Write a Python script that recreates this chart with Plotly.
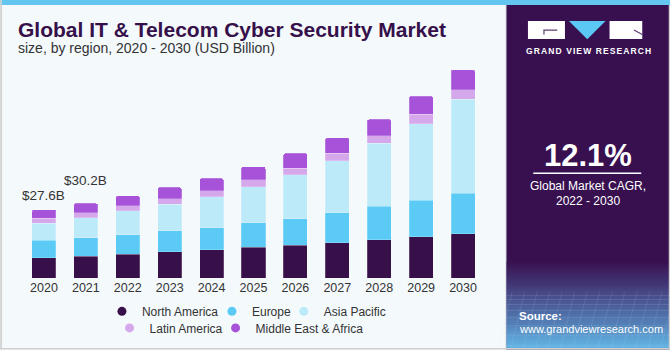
import plotly.graph_objects as go

# ---------------- data ----------------
years = ['2020', '2021', '2022', '2023', '2024', '2025', '2026', '2027', '2028', '2029', '2030']
north_america = [8.2, 8.9, 9.7, 10.6, 11.4, 12.4, 13.3, 14.3, 15.5, 16.7, 18.0]
europe = [7.0, 7.4, 7.9, 8.5, 9.0, 10.0, 10.6, 12.1, 13.5, 14.7, 16.2]
asia_pacific = [6.9, 8.1, 9.6, 10.8, 12.5, 14.5, 17.8, 21.0, 25.5, 31.0, 38.1]
latin_america = [2.0, 2.0, 2.1, 2.1, 2.4, 2.8, 2.8, 3.1, 3.1, 3.8, 3.9]
middle_east_africa = [3.5, 3.8, 3.9, 4.7, 5.0, 5.4, 5.9, 6.2, 6.6, 7.4, 8.0]

label_years = ['2020', '2021']
label_texts = ['$27.6B', '$30.2B']

series_names = ['North America', 'Europe', 'Asia Pacific', 'Latin America', 'Middle East & Africa']
series_values = [north_america, europe, asia_pacific, latin_america, middle_east_africa]
series_colors = ['#371049', '#5BCAF5', '#BDEAF9', '#D5A8EC', '#A652D9']

# ---------------- layout geometry (pixels) ----------------
W, H = 670, 350
ML, MT = 22.75, 60
PW, PH = 461.0, 218.3
MR = W - ML - PW
MB = H - MT - PH
Y_TOP = 88.2
FONT = 'Liberation Sans, Arial, sans-serif'


def X(px):
    return (px - ML) / PW


def Y(py):
    return (MT + PH - py) / PH


fig = go.Figure()

for name, vals, col in zip(series_names, series_values, series_colors):
    fig.add_trace(go.Bar(
        x=years, y=vals, name=name, marker_color=col,
        marker_line=dict(width=0.6, color='rgba(255,255,255,0.35)'),
        showlegend=False, hoverinfo='x+y+name'))

# legend entries with circle markers, one legend per entry for exact placement
legend_pos = [  # (text start px, row center px)
    (140.7, 311.7), (250.7, 311.7), (322.5, 311.7),
    (148.3, 328.3), (254.3, 328.3)]
legend_keys = ['legend', 'legend2', 'legend3', 'legend4', 'legend5']
legend_layout = {}
for i, (name, col) in enumerate(zip(series_names, series_colors)):
    fig.add_trace(go.Scatter(
        x=[None], y=[None], mode='markers', name=name,
        marker=dict(color=col, size=9, symbol='circle'),
        legend=legend_keys[i], showlegend=True))
    tx, ty = legend_pos[i]
    legend_layout[legend_keys[i]] = dict(
        x=X(tx + 1 - 40), y=Y(ty), xanchor='left', yanchor='middle',
        orientation='h', bgcolor='rgba(0,0,0,0)',
        font=dict(family=FONT, size=12, color='#333333'))

# value labels above first bars
totals = [sum(v[i] for v in series_values) for i in range(len(years))]
label_shift = [14, 23.3]
annotations = []
for yr, txt, sh in zip(label_years, label_texts, label_shift):
    idx = years.index(yr)
    annotations.append(dict(
        x=idx, y=totals[idx], xref='x', yref='y', text=txt.replace('$', '&#36;'), showarrow=False,
        yanchor='middle', yshift=sh,
        font=dict(family=FONT, size=13.5, color='#333333')))

# titles
annotations.append(dict(
    x=X(15.5), y=Y(29.3), xref='paper', yref='paper', xanchor='left', yanchor='middle',
    text='<b>Global IT & Telecom Cyber Security Market</b>', showarrow=False,
    font=dict(family=FONT, size=21, color='#36104A')))
annotations.append(dict(
    x=X(15.5), y=Y(48), xref='paper', yref='paper', xanchor='left', yanchor='middle',
    text='size, by region, 2020 - 2030 (USD Billion)', showarrow=False,
    font=dict(family=FONT, size=14, color='#333333')))

# right panel texts
annotations += [
    dict(x=X(588.5), y=Y(51), xref='paper', yref='paper', xanchor='center', yanchor='middle',
         text='<b><span style="letter-spacing:1.1px">GRAND VIEW RESEARCH</span></b>', showarrow=False,
         font=dict(family=FONT, size=8.5, color='#FFFFFF')),
    dict(x=X(587.5), y=Y(156), xref='paper', yref='paper', xanchor='center', yanchor='middle',
         text='<b>12.1%</b>', showarrow=False,
         font=dict(family=FONT, size=31, color='#FFFFFF')),
    dict(x=X(587.5), y=Y(186), xref='paper', yref='paper', xanchor='center', yanchor='middle',
         text='Global Market CAGR,', showarrow=False,
         font=dict(family=FONT, size=12, color='#FFFFFF')),
    dict(x=X(587.5), y=Y(201.5), xref='paper', yref='paper', xanchor='center', yanchor='middle',
         text='2022 - 2030', showarrow=False,
         font=dict(family=FONT, size=12, color='#FFFFFF')),
    dict(x=X(516.5), y=Y(316), xref='paper', yref='paper', xanchor='left', yanchor='middle',
         text='<b>Source:</b>', showarrow=False,
         font=dict(family=FONT, size=11.5, color='#FFFFFF')),
    dict(x=X(516.5), y=Y(329.5), xref='paper', yref='paper', xanchor='left', yanchor='middle',
         text='www.grandviewresearch.com', showarrow=False,
         font=dict(family=FONT, size=11, color='#FFFFFF')),
]


def rect(x0, y0, x1, y1, color, layer='below'):
    return dict(type='rect', xref='paper', yref='paper', x0=X(x0), x1=X(x1), y0=Y(y1), y1=Y(y0),
                fillcolor=color, line=dict(width=0), layer=layer)


def hexrgb(h):
    h = h.lstrip('#')
    return tuple(int(h[i:i + 2], 16) for i in (0, 2, 4))


shapes = []
# right panel base
shapes.append(rect(506, 0, 670, 350, '#381050'))
# bottom gradient of the panel
stops = [(262, '#381050'), (290, '#46407f'), (315, '#4f6fa8'), (348, '#62b4e3')]
n = 44
for k in range(n):
    y0 = stops[0][0] + (stops[-1][0] - stops[0][0]) * k / n
    y1 = stops[0][0] + (stops[-1][0] - stops[0][0]) * (k + 1) / n + 0.6
    ym = (y0 + y1) / 2
    for j in range(len(stops) - 1):
        if stops[j][0] <= ym <= stops[j + 1][0]:
            t = (ym - stops[j][0]) / (stops[j + 1][0] - stops[j][0])
            a, b = hexrgb(stops[j][1]), hexrgb(stops[j + 1][1])
            c = tuple(round(a[i] + (b[i] - a[i]) * t) for i in range(3))
            break
    shapes.append(rect(506, y0, 670, y1, 'rgb(%d,%d,%d)' % c))
# faint grid texture in the panel bottom
for k in range(9):
    yy = 296 + k * (k + 6) * 0.55
    shapes.append(dict(type='line', xref='paper', yref='paper', x0=X(506), x1=X(670), y0=Y(yy), y1=Y(yy),
                       line=dict(color='rgba(200,220,255,0.18)', width=0.8), layer='below'))
for k in range(14):
    xx = 506 + k * 12.5
    shapes.append(dict(type='line', xref='paper', yref='paper', x0=X(xx + 6), x1=X(xx - 8), y0=Y(292), y1=Y(348),
                       line=dict(color='rgba(200,220,255,0.15)', width=0.8), layer='below'))
# top stripe and frame
shapes.append(rect(0, 0, 670, 5, '#62C6F0'))
shapes.append(rect(0, 0, 1.7, 350, '#CFCFCF'))
shapes.append(rect(0, 348.3, 670, 350, '#CFCFCF'))
shapes.append(rect(668.5, 5, 670, 350, '#CFCFCF'))
shapes.append(rect(504.8, 5, 506, 348.3, '#E4E8EC'))
# logo
shapes.append(rect(527.7, 21, 564.7, 39, '#FFFFFF'))
shapes.append(rect(609.3, 21, 642, 39, '#FFFFFF'))
shapes.append(dict(type='path', xref='paper', yref='paper',
                   path='M %f %f L %f %f L %f %f Z' % (X(568.7), Y(21), X(605.3), Y(21), X(587), Y(39.3)),
                   fillcolor='#5BC8F3', line=dict(width=0), layer='below'))
shapes.append(dict(type='path', xref='paper', yref='paper',
                   path='M %f %f L %f %f L %f %f' % (X(557), Y(30), X(543.7), Y(30), X(543.7), Y(34.5)),
                   line=dict(color='#5a3a6e', width=1.2), layer='below'))
shapes.append(dict(type='line', xref='paper', yref='paper', x0=X(633.7), y0=Y(30), x1=X(642), y1=Y(34.5),
                   line=dict(color='#5a3a6e', width=1.2), layer='below'))
# CAGR underline
shapes.append(dict(type='line', xref='paper', yref='paper', x0=X(533), x1=X(641), y0=Y(173.3), y1=Y(173.3),
                   line=dict(color='#FFFFFF', width=1.5), layer='below'))

fig.update_layout(
    width=W, height=H,
    margin=dict(l=ML, r=MR, t=MT, b=MB, pad=0, autoexpand=False),
    paper_bgcolor='#F4F9FC', plot_bgcolor='rgba(0,0,0,0)',
    barmode='stack', bargap=0.427, barcornerradius=2,
    xaxis=dict(type='category', range=[-0.5, 10.5], showgrid=False, zeroline=False, showline=False,
               ticks='', tickfont=dict(family=FONT, size=12.5, color='#333333'), fixedrange=True),
    yaxis=dict(range=[0, Y_TOP], visible=False, showgrid=False, zeroline=False, fixedrange=True),
    annotations=annotations, shapes=shapes,
    **legend_layout,
)

fig.write_html('out.html')
